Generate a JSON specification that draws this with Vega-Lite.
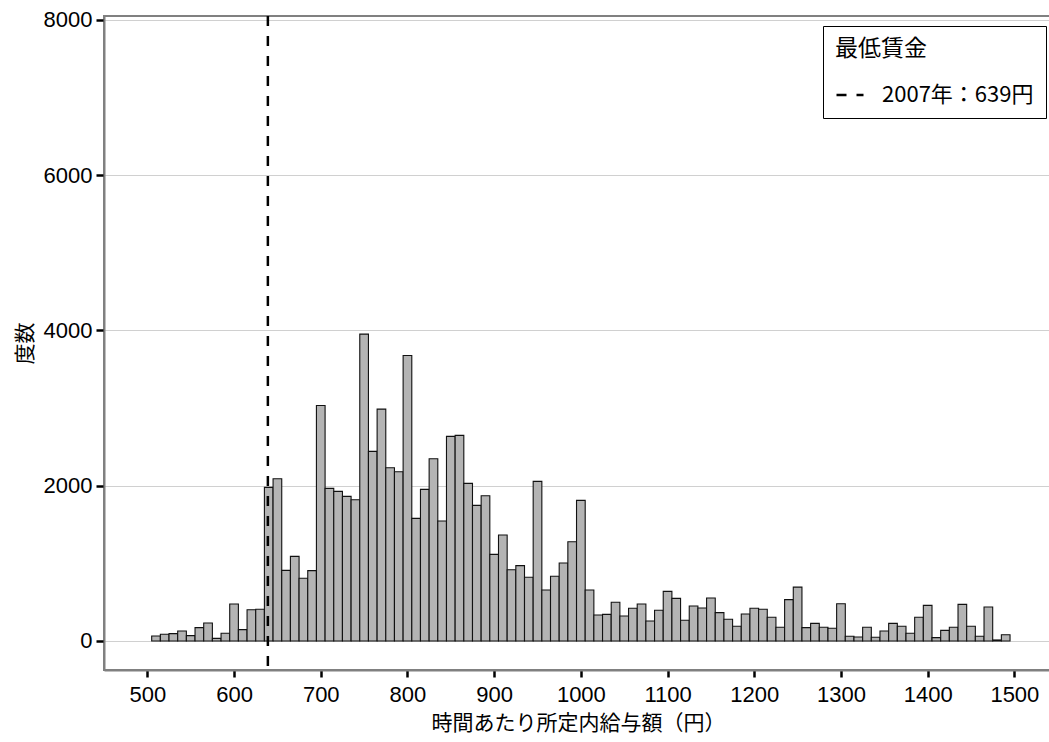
{
  "$schema": "https://vega.github.io/schema/vega-lite/v6.json",
  "width": 948,
  "height": 654,
  "autosize": {"type": "none"},
  "padding": {"left": 104, "top": 16, "right": 0, "bottom": 72},
  "background": "white",
  "config": {
    "view": {"stroke": "#808080", "strokeWidth": 2},
    "font": "Noto Sans CJK JP",
    "axis": {
      "domainColor": "#808080",
      "domainWidth": 2,
      "tickColor": "#000000",
      "tickWidth": 2.5,
      "tickSize": 7,
      "labelFont": "Liberation Sans",
      "labelFontSize": 22,
      "labelColor": "#000000",
      "titleFont": "Noto Sans CJK JP",
      "titleFontSize": 21,
      "titleFontWeight": "normal",
      "titleColor": "#000000",
      "gridColor": "#d0d0d0",
      "gridWidth": 1.2
    },
    "legend": {
      "strokeColor": "#000000",
      "fillColor": "#ffffff",
      "padding": 12,
      "cornerRadius": 0
    }
  },
  "datasets": {
    "bins": [
      {"lo":505,"hi":515,"n":64},{"lo":515,"hi":525,"n":86},{"lo":525,"hi":535,"n":94},{"lo":535,"hi":545,"n":129},
      {"lo":545,"hi":555,"n":69},{"lo":555,"hi":565,"n":172},{"lo":565,"hi":575,"n":232},{"lo":575,"hi":585,"n":34},
      {"lo":585,"hi":595,"n":99},{"lo":595,"hi":605,"n":476},{"lo":605,"hi":615,"n":146},{"lo":615,"hi":625,"n":403},
      {"lo":625,"hi":635,"n":408},{"lo":635,"hi":645,"n":1978},{"lo":645,"hi":655,"n":2090},{"lo":655,"hi":665,"n":910},
      {"lo":665,"hi":675,"n":1090},{"lo":675,"hi":685,"n":807},{"lo":685,"hi":695,"n":906},{"lo":695,"hi":705,"n":3034},
      {"lo":705,"hi":715,"n":1966},{"lo":715,"hi":725,"n":1927},{"lo":725,"hi":735,"n":1863},{"lo":735,"hi":745,"n":1820},
      {"lo":745,"hi":755,"n":3953},{"lo":755,"hi":765,"n":2442},{"lo":765,"hi":775,"n":2987},{"lo":775,"hi":785,"n":2232},
      {"lo":785,"hi":795,"n":2180},{"lo":795,"hi":805,"n":3678},{"lo":805,"hi":815,"n":1579},{"lo":815,"hi":825,"n":1953},
      {"lo":825,"hi":835,"n":2348},{"lo":835,"hi":845,"n":1545},{"lo":845,"hi":855,"n":2635},{"lo":855,"hi":865,"n":2648},
      {"lo":865,"hi":875,"n":2030},{"lo":875,"hi":885,"n":1747},{"lo":885,"hi":895,"n":1871},{"lo":895,"hi":905,"n":1116},
      {"lo":905,"hi":915,"n":1365},{"lo":915,"hi":925,"n":918},{"lo":925,"hi":935,"n":970},{"lo":935,"hi":945,"n":820},
      {"lo":945,"hi":955,"n":2056},{"lo":955,"hi":965,"n":657},{"lo":965,"hi":975,"n":833},{"lo":975,"hi":985,"n":1004},
      {"lo":985,"hi":995,"n":1279},{"lo":995,"hi":1005,"n":1811},{"lo":1005,"hi":1015,"n":657},{"lo":1015,"hi":1025,"n":335},
      {"lo":1025,"hi":1035,"n":343},{"lo":1035,"hi":1045,"n":498},{"lo":1045,"hi":1055,"n":322},{"lo":1055,"hi":1065,"n":421},
      {"lo":1065,"hi":1075,"n":476},{"lo":1075,"hi":1085,"n":258},{"lo":1085,"hi":1095,"n":395},{"lo":1095,"hi":1105,"n":639},
      {"lo":1105,"hi":1115,"n":549},{"lo":1115,"hi":1125,"n":266},{"lo":1125,"hi":1135,"n":451},{"lo":1135,"hi":1145,"n":425},
      {"lo":1145,"hi":1155,"n":554},{"lo":1155,"hi":1165,"n":365},{"lo":1165,"hi":1175,"n":279},{"lo":1175,"hi":1185,"n":189},
      {"lo":1185,"hi":1195,"n":348},{"lo":1195,"hi":1205,"n":421},{"lo":1205,"hi":1215,"n":408},{"lo":1215,"hi":1225,"n":305},
      {"lo":1225,"hi":1235,"n":176},{"lo":1235,"hi":1245,"n":532},{"lo":1245,"hi":1255,"n":694},{"lo":1255,"hi":1265,"n":172},
      {"lo":1265,"hi":1275,"n":227},{"lo":1275,"hi":1285,"n":176},{"lo":1285,"hi":1295,"n":163},{"lo":1295,"hi":1305,"n":480},
      {"lo":1305,"hi":1315,"n":60},{"lo":1315,"hi":1325,"n":51},{"lo":1325,"hi":1335,"n":176},{"lo":1335,"hi":1345,"n":47},
      {"lo":1345,"hi":1355,"n":129},{"lo":1355,"hi":1365,"n":227},{"lo":1365,"hi":1375,"n":189},{"lo":1375,"hi":1385,"n":99},
      {"lo":1385,"hi":1395,"n":305},{"lo":1395,"hi":1405,"n":459},{"lo":1405,"hi":1415,"n":43},{"lo":1415,"hi":1425,"n":137},
      {"lo":1425,"hi":1435,"n":176},{"lo":1435,"hi":1445,"n":472},{"lo":1445,"hi":1455,"n":189},{"lo":1455,"hi":1465,"n":60},
      {"lo":1465,"hi":1475,"n":437},{"lo":1475,"hi":1485,"n":13},{"lo":1485,"hi":1495,"n":81}
    ],
    "minwage": [{"wage": 639, "label": "2007年：639円"}]
  },
  "layer": [
    {
      "data": {"name": "bins"},
      "mark": {"type": "rect", "fill": "#b4b4b4", "stroke": "#111111", "strokeWidth": 1.1},
      "encoding": {
        "x": {
          "field": "lo", "type": "quantitative",
          "scale": {"domain": [450, 1543.4], "nice": false, "zero": false},
          "axis": {
            "values": [500,600,700,800,900,1000,1100,1200,1300,1400,1500],
            "format": "d",
            "grid": false,
            "title": "時間あたり所定内給与額（円）",
            "labelPadding": 7,
            "titlePadding": 7
          }
        },
        "x2": {"field": "hi"},
        "y": {
          "field": "n", "type": "quantitative",
          "scale": {"domain": [-374, 8051], "nice": false, "zero": false},
          "axis": {
            "values": [0, 2000, 4000, 6000, 8000],
            "format": "d",
            "grid": true,
            "tickSize": 8,
            "labelPadding": 4,
            "title": "度数",
            "titlePadding": 8
          }
        },
        "y2": {"datum": 0}
      }
    },
    {
      "data": {"name": "minwage"},
      "mark": {"type": "rule", "color": "#000000", "strokeWidth": 2.5},
      "encoding": {
        "x": {"field": "wage", "type": "quantitative"},
        "strokeDash": {
          "field": "label", "type": "nominal",
          "scale": {"range": [[10, 10]]},
          "legend": {
            "title": "最低賃金",
            "orient": "none",
            "legendX": 719,
            "legendY": 10,
            "titleFont": "Noto Sans CJK JP",
            "titleFontSize": 23,
            "titleFontWeight": "normal",
            "titleColor": "#000000",
            "titlePadding": 19,
            "labelFont": "Noto Sans CJK JP",
            "labelFontSize": 22,
            "labelColor": "#000000",
            "symbolType": "stroke",
            "symbolSize": 729,
            "symbolStrokeWidth": 2.5,
            "symbolStrokeColor": "#000000",
            "symbolDash": [9, 9],
            "labelOffset": 17
          }
        }
      }
    }
  ]
}
